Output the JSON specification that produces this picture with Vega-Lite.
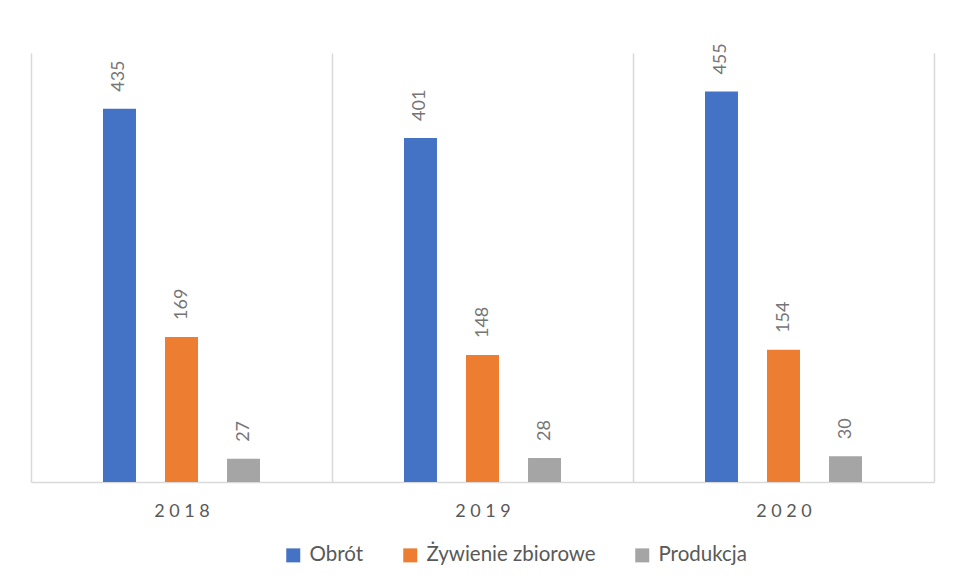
{
  "$schema": "https://vega.github.io/schema/vega-lite/v6.json",
  "width": 903,
  "height": 429,
  "autosize": {"type": "none"},
  "padding": {"left": 31, "top": 53, "right": 24, "bottom": 98},
  "background": "white",
  "config": {
    "view": {"stroke": null},
    "font": "Lato"
  },
  "data": {
    "values": [
      {"year": "2018", "series": "Obrót", "value": 435},
      {"year": "2018", "series": "Żywienie zbiorowe", "value": 169},
      {"year": "2018", "series": "Produkcja", "value": 27},
      {"year": "2019", "series": "Obrót", "value": 401},
      {"year": "2019", "series": "Żywienie zbiorowe", "value": 148},
      {"year": "2019", "series": "Produkcja", "value": 28},
      {"year": "2020", "series": "Obrót", "value": 455},
      {"year": "2020", "series": "Żywienie zbiorowe", "value": 154},
      {"year": "2020", "series": "Produkcja", "value": 30}
    ]
  },
  "encoding": {
    "x": {
      "field": "year", "type": "nominal",
      "scale": {"paddingInner": 0, "paddingOuter": 0},
      "axis": {
        "title": null, "labelAngle": 0, "ticks": false,
        "tickBand": "extent",
        "grid": true, "gridColor": "#d9d9d9", "gridWidth": 1.5,
        "domainColor": "#d9d9d9", "domainWidth": 1.5,
        "labelFontSize": 18, "labelColor": "#595959", "labelPadding": 20,
        "labelExpr": "join(split(datum.label, ''), ' ')"
      }
    },
    "xOffset": {
      "field": "series", "type": "nominal",
      "scale": {
        "domain": ["_a", "Obrót", "Żywienie zbiorowe", "Produkcja", "_b"],
        "paddingInner": 0.468, "paddingOuter": 0.161
      }
    },
    "y": {
      "field": "value", "type": "quantitative",
      "scale": {"domain": [0, 500]},
      "axis": null
    }
  },
  "layer": [
    {
      "mark": {"type": "bar"},
      "encoding": {
        "color": {
          "field": "series", "type": "nominal",
          "scale": {
            "domain": ["Obrót", "Żywienie zbiorowe", "Produkcja"],
            "range": ["#4472C4", "#ED7D31", "#A5A5A5"]
          },
          "legend": {
            "title": null, "orient": "none", "direction": "horizontal",
            "legendX": 252, "legendY": 492,
            "symbolType": "square", "symbolSize": 196, "symbolStrokeWidth": 0,
            "labelFontSize": 20.5, "labelColor": "#595959", "labelOffset": 6,
            "labelLimit": 400,
            "columnPadding": 36, "padding": 0
          }
        }
      }
    },
    {
      "mark": {
        "type": "text", "angle": 270, "align": "left", "baseline": "middle",
        "dx": 17, "fontSize": 18, "color": "#767676"
      },
      "encoding": {
        "text": {"field": "value", "type": "quantitative"}
      }
    }
  ]
}
